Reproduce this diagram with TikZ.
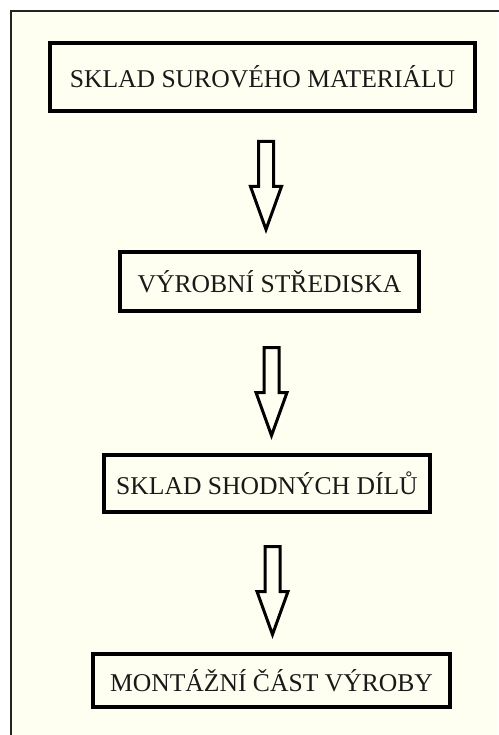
\documentclass[tikz,border=0pt]{standalone}
\usepackage{fontspec}
\setmainfont{Liberation Serif}
\definecolor{cream}{RGB}{255,255,241}
\definecolor{framegray}{RGB}{35,35,35}
\definecolor{inkc}{RGB}{25,25,25}
\begin{document}
\begin{tikzpicture}[x=1pt,y=-1pt,
  box/.style={draw=black, line width=4pt, fill=cream, inner sep=0pt,
    font=\fontsize{25.6}{30}\selectfont, text=inkc},
  blockarrow/.style={draw=black, line width=3pt, line join=miter, fill=cream},
  pics/downarrow/.style={code={
    \draw[blockarrow] (-7.5,0) -- (7.5,0) -- (7.5,45) -- (15.5,45) -- (0,88)
      -- (-15.5,45) -- (-7.5,45) -- cycle;}}]
\useasboundingbox (0,0) rectangle (498,735);
\fill[white] (0,0) rectangle (498,735);
\fill[cream] (11,11) rectangle (498,735);
\draw[framegray, line width=1.5pt] (11,740) -- (11,11) -- (503,11);

\node[box, minimum width=425pt, minimum height=68pt] (b1) at (262.5,77) {SKLAD SUROVÉHO MATERIÁLU};
\node[box, minimum width=299pt, minimum height=59pt] (b2) at (269.5,281.5) {VÝROBNÍ STŘEDISKA};
\node[box, minimum width=326pt, minimum height=57pt] (b3) at (267,483.5) {SKLAD SHODNÝCH DÍLŮ};
\node[box, minimum width=357pt, minimum height=53pt] (b4) at (271.5,680.5) {MONTÁŽNÍ ČÁST VÝROBY};

\coordinate (a1) at (266,141.5);
\coordinate (a2) at (271.5,347.5);
\coordinate (a3) at (272.5,546.5);
\pic at (a1) {downarrow};
\pic at (a2) {downarrow};
\pic at (a3) {downarrow};
\end{tikzpicture}
\end{document}
